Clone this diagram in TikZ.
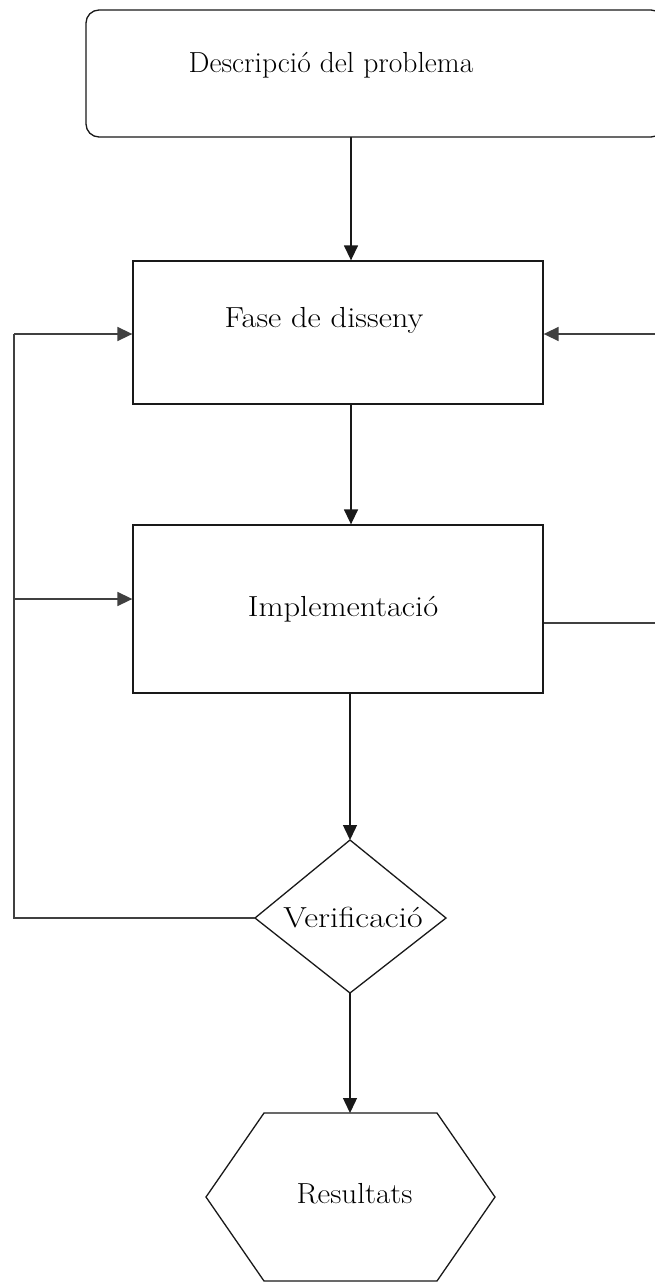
\documentclass[tikz,border=0pt]{standalone}
\usetikzlibrary{arrows.meta}
\begin{document}
\begin{tikzpicture}[x=1pt,y=-1pt,
  box/.style={draw=black!90,line width=1.3pt},
  lbl/.style={inner sep=0pt,anchor=base,font=\fontsize{29}{33}\selectfont},
  tip/.style={-{Triangle[length=15pt,width=14pt]}},
  flow/.style={draw=black!90,line width=1.4pt,tip},
  wire/.style={draw=black!75,line width=1.6pt}]
  \useasboundingbox (0,0) rectangle (655,1282);
  \fill[white] (0,0) rectangle (655,1282);

  % process blocks
  \draw[box,rounded corners=13pt] (86,10) rectangle (664,137);
  \coordinate (desc) at (351,137);
  \node[box,minimum width=410pt,minimum height=143pt,inner sep=0pt] (fase) at (338,332.5) {};
  \node[box,minimum width=410pt,minimum height=168pt,inner sep=0pt] (impl) at (338,609) {};

  % decision diamond
  \coordinate (vn) at (350,840);
  \coordinate (ve) at (446,918);
  \coordinate (vs) at (350,993);
  \coordinate (vw) at (255,918);
  \draw[box] (vn) -- (ve) -- (vs) -- (vw) -- cycle;

  % result hexagon
  \coordinate (hn) at (350,1113);
  \draw[box] (264,1113) -- (437,1113) -- (495,1197) -- (437,1281) -- (264,1281) -- (206,1197) -- cycle;

  % labels
  \node[lbl] (t1) at (331,72) {\scalebox{1.02}[1]{Descripció del problema}};
  \node[lbl] (t2) at (324,327) {\scalebox{1.12}[1]{Fase de disseny}};
  \node[lbl] (t3) at (343,616) {\scalebox{1.12}[1]{Implementació}};
  \node[lbl] (t4) at (353,927) {\scalebox{1.17}[1]{Verif{}icació}};
  \node[lbl] (t5) at (354.5,1203) {\scalebox{1.07}[1]{Resultats}};

  % main flow
  \coordinate (c1) at (351,404);
  \coordinate (c2) at (350,693);
  \draw[flow] (desc) -- (desc |- fase.north);
  \draw[flow] (c1) -- (c1 |- impl.north);
  \draw[flow] (c2) -- (vn);
  \draw[flow] (vs) -- (hn);

  % feedback loop on the left
  \coordinate (lb) at (14,918);
  \coordinate (lt) at (14,334);
  \coordinate (lm) at (14,599);
  \draw[wire] (vw) -- (lb) -- (lt);
  \draw[wire,tip] (lt) -- (lt -| fase.west);
  \draw[wire,tip] (lm) -- (lm -| impl.west);

  % lines leaving on the right
  \coordinate (rt) at (660,334);
  \coordinate (rb) at (660,623);
  \draw[wire,tip] (rt) -- (rt -| fase.east);
  \draw[wire] (rb -| impl.east) -- (rb);
\end{tikzpicture}
\end{document}
